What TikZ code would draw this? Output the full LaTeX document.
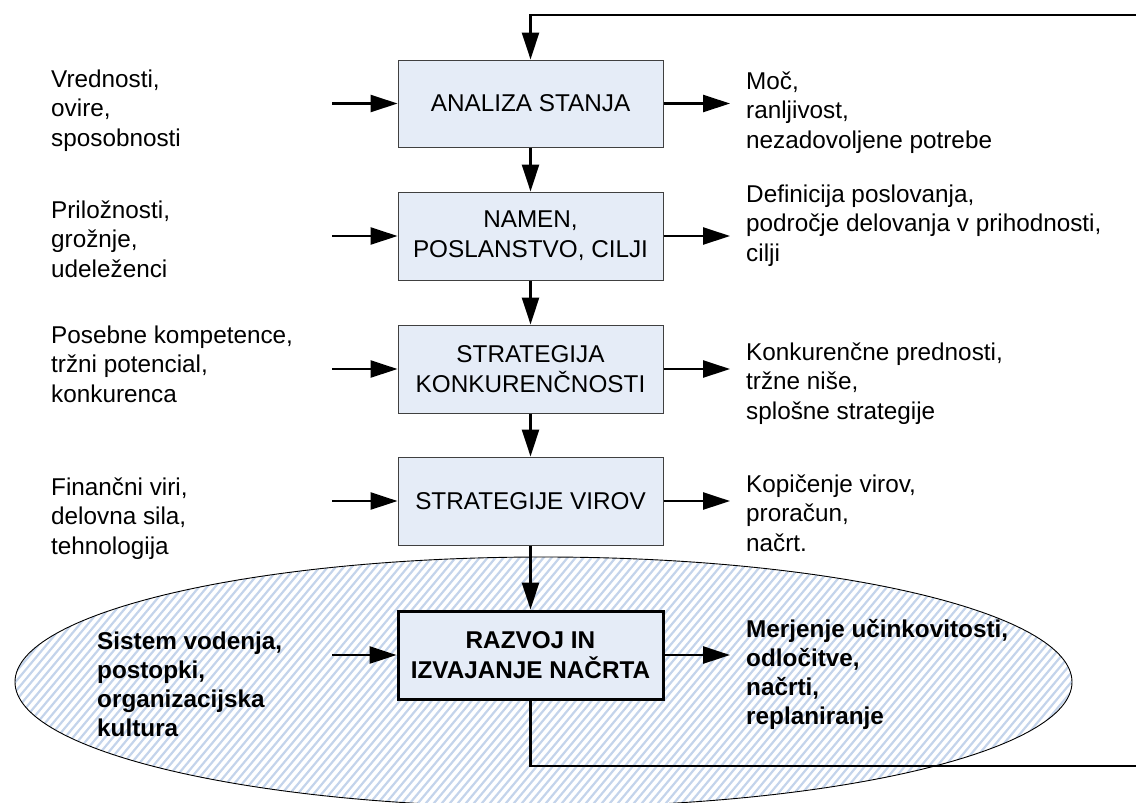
\documentclass[tikz,border=0pt]{standalone}
\usepackage{fontspec}
\setmainfont{Liberation Sans}
\usetikzlibrary{arrows.meta}
\definecolor{boxfill}{RGB}{229,236,247}
\definecolor{boxline}{RGB}{64,64,64}
\definecolor{hatchblue}{RGB}{196,212,235}
% left-aligned stack of lines, baseline at the first line
\newcommand{\txtlines}[1]{\vtop{\halign{##\hfil\cr#1\crcr}}}

\begin{document}
\begin{tikzpicture}[x=1pt,y=-1pt,
  every node/.style={font=\fontsize{24.3}{29.5}\selectfont, inner sep=0pt},
  stage/.style={draw=boxline, line width=1pt, fill=boxfill, minimum width=265pt,
    minimum height=88pt, align=center, font=\fontsize{24.3}{30}\selectfont},
  keystage/.style={stage, draw=black, line width=3pt, font=\fontsize{24.3}{30}\selectfont\bfseries},
  flow/.style={line width=2.8pt, -{Triangle[length=27pt,width=17pt]}},
  loopline/.style={line width=2.8pt},
  side/.style={anchor=base west},
  sidebold/.style={anchor=base west, font=\fontsize{24.3}{29}\selectfont\bfseries},
]
\useasboundingbox (0,0) rectangle (1136,803);

% hatched ellipse around the implementation stage
\begin{scope}
  \clip (543.5,682) ellipse [x radius=528.5, y radius=125];
  \foreach \i in {-30,...,140}
    \draw[hatchblue, line width=2.2pt] ({\i*8},815) -- ({\i*8+222},550);
\end{scope}
\draw[line width=0.9pt] (543.5,682) ellipse [x radius=528.5, y radius=125];

% stages
\node[stage, minimum height=87pt] (b1) at (530.5,103.5) {ANALIZA STANJA};
\node[stage] (b2) at (530.5,236) {NAMEN,\\POSLANSTVO, CILJI};
\node[stage] (b3) at (530.5,369) {STRATEGIJA\\KONKURENČNOSTI};
\node[stage] (b4) at (530.5,501) {STRATEGIJE VIROV};
\node[keystage] (b5) at (530.5,655) {RAZVOJ IN\\IZVAJANJE NAČRTA};

% flow between stages
\draw[flow] (b1) -- (b2);
\draw[flow] (b2) -- (b3);
\draw[flow] (b3) -- (b4);
\draw[flow] (b4) -- (b5);

% feedback loop
\coordinate (looptop) at (1136,15);
\coordinate (loopbot) at (1136,766);
\draw[loopline] (b5.south) |- (loopbot);
\draw[flow] (looptop) -| (b1.north);

% inputs
\coordinate (src1) at (332,103.5);
\coordinate (src2) at (332,236);
\coordinate (src3) at (332,369);
\coordinate (src4) at (332,501);
\coordinate (src5) at (332,655);
\draw[flow] (src1) -- (b1.west);
\draw[flow] (src2) -- (b2.west);
\draw[flow] (src3) -- (b3.west);
\draw[flow] (src4) -- (b4.west);
\draw[flow] (src5) -- (b5.west);

% outputs
\coordinate (dst1) at (730,103.5);
\coordinate (dst2) at (730,236);
\coordinate (dst3) at (730,369);
\coordinate (dst4) at (730,501);
\coordinate (dst5) at (730,655);
\draw[flow] (b1.east) -- (dst1);
\draw[flow] (b2.east) -- (dst2);
\draw[flow] (b3.east) -- (dst3);
\draw[flow] (b4.east) -- (dst4);
\draw[flow] (b5.east) -- (dst5);

% input texts
\node[side] (in1) at (51,87) {\txtlines{Vrednosti,\cr ovire,\cr sposobnosti}};
\node[side] (in2) at (51,218) {\txtlines{Priložnosti,\cr grožnje,\cr udeleženci}};
\node[side] (in3) at (51,343) {\txtlines{Posebne kompetence,\cr tržni potencial,\cr konkurenca}};
\node[side] (in4) at (51,495) {\txtlines{Finančni viri,\cr delovna sila,\cr tehnologija}};
\node[sidebold] (in5) at (97,649) {\txtlines{Sistem vodenja,\cr postopki,\cr organizacijska\cr kultura}};

% output texts
\node[side] (out1) at (746,89) {\txtlines{Moč,\cr ranljivost,\cr nezadovoljene potrebe}};
\node[side] (out2) at (746,202) {\txtlines{Definicija poslovanja,\cr področje delovanja v prihodnosti,\cr cilji}};
\node[side] (out3) at (746,360) {\txtlines{Konkurenčne prednosti,\cr tržne niše,\cr splošne strategije}};
\node[side] (out4) at (746,492) {\txtlines{Kopičenje virov,\cr proračun,\cr načrt.}};
\node[sidebold] (out5) at (746,637) {\txtlines{Merjenje učinkovitosti,\cr odločitve,\cr načrti,\cr replaniranje}};
\end{tikzpicture}
\end{document}
